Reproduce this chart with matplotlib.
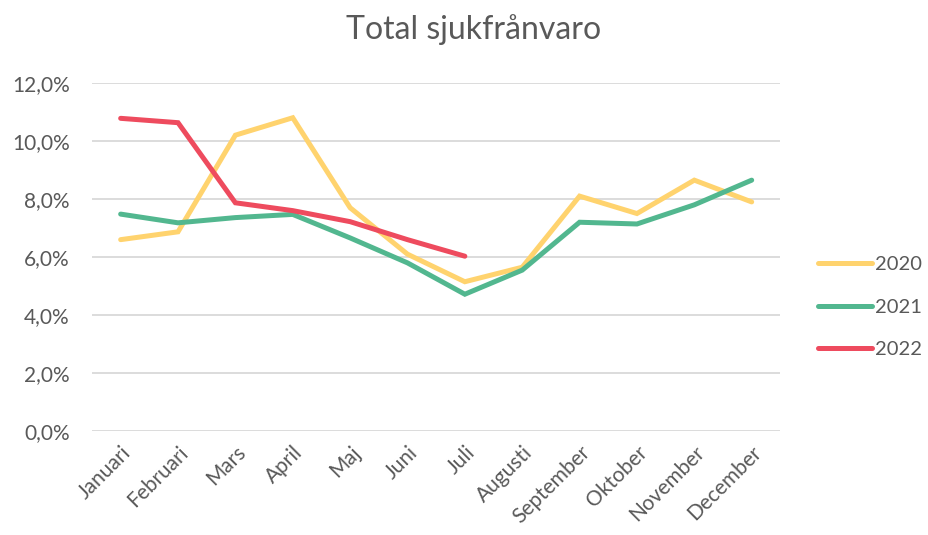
import matplotlib.pyplot as plt
from matplotlib.ticker import FuncFormatter

months = ['Januari', 'Februari', 'Mars', 'April', 'Maj', 'Juni', 'Juli',
          'Augusti', 'September', 'Oktober', 'November', 'December']
y2020 = [6.6, 6.87, 10.2, 10.8, 7.7, 6.1, 5.15, 5.65, 8.1, 7.5, 8.65, 7.9]
y2021 = [7.48, 7.18, 7.36, 7.47, 6.66, 5.8, 4.72, 5.55, 7.2, 7.14, 7.8, 8.65]
y2022 = [10.78, 10.63, 7.87, 7.6, 7.22, 6.6, 6.03]

plt.rcParams['font.family'] = ['Lato', 'DejaVu Sans']
txt = '#595959'

fig = plt.figure(figsize=(9.29, 5.35), dpi=100)
ax = fig.add_axes([0.099, 0.194, 0.741, 0.651])

x = list(range(len(months)))
style = dict(lw=3.6, solid_capstyle='round', solid_joinstyle='miter')
ax.plot(x, y2020, color='#FFD36E', label='2020', **style)
ax.plot(x, y2021, color='#52B78F', label='2021', **style)
ax.plot(x[:len(y2022)], y2022, color='#EE4B5E', label='2022', **style)

ax.set_xlim(-0.5, 11.5)
ax.set_ylim(0, 12)
ax.set_yticks([0, 2, 4, 6, 8, 10, 12])
ax.yaxis.set_major_formatter(FuncFormatter(lambda v, p: f'{v:.1f}%'.replace('.', ',')))
ax.set_xticks(x)
ax.set_xticklabels(months, rotation=45, ha='right', rotation_mode='anchor')
ax.grid(axis='y', color='#D9D9D9', lw=1.3)
ax.set_axisbelow(True)
for s in ax.spines.values():
    s.set_visible(False)
ax.tick_params(length=0, colors=txt, labelsize=15)
ax.tick_params(axis='y', pad=16)
ax.tick_params(axis='x', pad=8)

fig.text(0.51, 0.945, 'Total sjukfrånvaro', color=txt, fontsize=23,
         ha='center', va='center')

ax.legend(loc='center left', bbox_to_anchor=(1.028, 0.356), frameon=False,
          fontsize=14.5, labelcolor=txt, handlelength=2.7, handletextpad=0.15,
          labelspacing=1.25)

fig.savefig('out.png', dpi=100)
